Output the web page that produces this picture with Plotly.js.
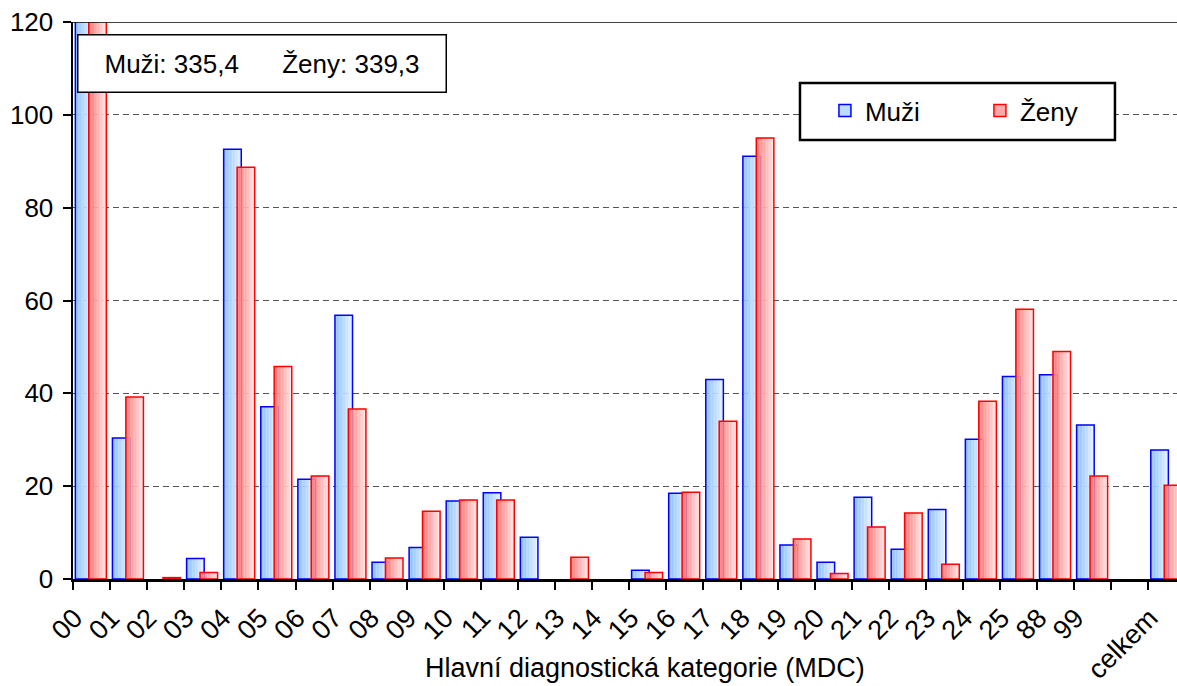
<!DOCTYPE html>
<html>
<head>
<meta charset="utf-8">
<script src="https://cdn.plot.ly/plotly-3.0.1.min.js"></script>
<style>html,body{margin:0;padding:0;background:#fff;}#chart{width:1177px;height:686px;}</style>
</head>
<body>
<div id="chart"></div>
<script>
const categories = ['00','01','02','03','04','05','06','07','08','09','10','11','12','13','14','15','16','17','18','19','20','21','22','23','24','25','88','99',' ','celkem'];
const muzi = [335.4,30.4,0,4.4,92.6,37.1,21.5,56.8,3.6,6.8,16.8,18.6,9.0,0,0,1.9,18.5,43.0,91.1,7.3,3.6,17.6,6.4,15.0,30.1,43.6,44.0,33.2,null,27.8];
const zeny = [339.3,39.2,0.3,1.4,88.7,45.8,22.2,36.6,4.5,14.6,17.0,17.0,0,4.7,0,1.4,18.7,34.0,95.0,8.6,1.2,11.2,14.2,3.2,38.3,58.1,49.0,22.2,null,20.2];
const seriesNames = ['Muži','Ženy'];
const xTitle = 'Hlavní diagnostická kategorie (MDC)';

const FONT = 'Liberation Sans, Arial, sans-serif';
const FS = 26;
const N = 12;
const W = 0.474;
function lerp(a,b,t){return Math.round(a+(b-a)*t);}
function gradTraces(y, off, c0, c1, line){
  const yy = y.map(v => (v === null || v === 0) ? null : v);
  const tr = [];
  for(let i=0;i<N;i++){
    const t = i/(N-1);
    tr.push({type:'bar', x:categories, y:yy, offset:off+i*W/N, width:W/N*1.08,
      marker:{color:`rgb(${lerp(c0[0],c1[0],t)},${lerp(c0[1],c1[1],t)},${lerp(c0[2],c1[2],t)})`, line:{width:0}},
      showlegend:false, hoverinfo:'skip'});
  }
  tr.push({type:'bar', x:categories, y:yy, offset:off, width:W,
    marker:{color:'rgba(0,0,0,0)', line:{color:line, width:1.5}}, showlegend:false, hoverinfo:'skip'});
  return tr;
}
const blueTr = gradTraces(muzi, -0.437, [140,192,255], [228,241,255], '#0000ff');
const redTr = gradTraces(zeny, -0.075, [255,120,120], [255,228,228], '#ff0000');
// legend-only entries placed on a hidden axis whose range excludes the bars
const legendTr = [
  {type:'bar', x:[categories[0]], y:[1], yaxis:'y2', name:seriesNames[0], marker:{color:'#bcdcff', line:{color:'#0000ff', width:1.5}}, hoverinfo:'skip'},
  {type:'bar', x:[categories[0]], y:[1], yaxis:'y2', name:seriesNames[1], marker:{color:'#ffa8a8', line:{color:'#ff0000', width:1.5}}, hoverinfo:'skip'}
];
function fmt(v){return v.toFixed(1).replace('.',',');}
const nb = '\u00a0';
const boxText = `${seriesNames[0]}: ${fmt(muzi[0])}${nb.repeat(6)}${seriesNames[1]}: ${fmt(zeny[0])}`;

const layout = {
  width:1177, height:686,
  margin:{l:73, r:0, t:22, b:107, autoexpand:false},
  paper_bgcolor:'#fff', plot_bgcolor:'#fff',
  font:{family:FONT, size:FS, color:'#000'},
  barmode:'overlay',
  showlegend:true,
  legend:{orientation:'h', x:0.6811, xanchor:'left', y:0.883, yanchor:'top',
    bgcolor:'rgba(0,0,0,0)', borderwidth:0,
    font:{family:FONT, size:FS, color:'#000'},
    entrywidth:110, entrywidthmode:'pixels', itemwidth:30},
  xaxis:{type:'category', range:[-0.5, 29.27], tickson:'boundaries',
    ticks:'outside', ticklen:8, tickwidth:2, tickcolor:'#000',
    showline:true, linecolor:'#000', linewidth:2.5, showgrid:false,
    tickangle:-45, tickfont:{family:FONT, size:27}, ticklabelshift:-17, ticklabelstandoff:10, fixedrange:true},
  yaxis:{range:[0,120], tickvals:[0,20,40,60,80,100,120],
    ticks:'outside', ticklen:8, tickwidth:2, tickcolor:'#000',
    showline:true, linecolor:'#000', linewidth:2.5,
    showgrid:true, gridcolor:'#555', gridwidth:1.2, griddash:'6px,4px',
    zeroline:false, tickfont:{family:FONT, size:FS}, ticklabelstandoff:4},
  yaxis2:{overlaying:'y', range:[10,11], visible:false, showgrid:false, zeroline:false},
  shapes:[
    {type:'line', xref:'paper', yref:'y', x0:0, x1:1, y0:120, y1:120, line:{color:'#000', width:1.5}},
    {type:'rect', xref:'paper', yref:'paper', x0:0.6585, x1:0.9438, y0:0.788, y1:0.8905, layer:'above',
      fillcolor:'#fff', line:{color:'#000', width:2.5}}
  ],
  annotations:[
    {xref:'paper', yref:'paper', x:0.0039, y:0.9785, xanchor:'left', yanchor:'top',
      text:boxText, showarrow:false, font:{family:FONT, size:FS, color:'#000'},
      bgcolor:'#fff', bordercolor:'#000', borderwidth:1.5, borderpad:0, width:367, height:56, align:'center'},
    {xref:'paper', yref:'paper', x:0.518, y:-0.16, xanchor:'center', yanchor:'middle',
      text:xTitle, showarrow:false, font:{family:FONT, size:27, color:'#000'}}
  ]
};
Plotly.newPlot('chart', [...blueTr, ...redTr, ...legendTr], layout, {displayModeBar:false, staticPlot:true});
</script>
</body>
</html>
